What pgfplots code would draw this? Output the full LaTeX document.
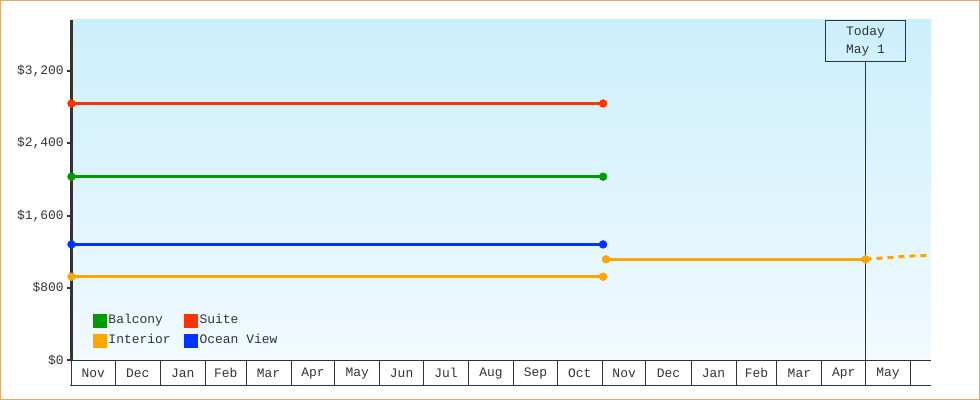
\documentclass[border=0pt]{standalone}
\usepackage{fontspec}
\setmainfont{Liberation Mono}
\usepackage{pgfplots}
\pgfplotsset{compat=1.18}

\definecolor{bordercol}{RGB}{230,168,100}
\definecolor{axiscol}{RGB}{51,51,51}
\definecolor{bgtop}{RGB}{204,239,252}
\definecolor{bgbot}{RGB}{241,250,255}
\definecolor{suite}{RGB}{255,51,0}
\definecolor{balcony}{RGB}{0,153,0}
\definecolor{oceanview}{RGB}{0,51,255}
\definecolor{interior}{RGB}{255,165,0}

\newcommand{\chartfont}{\fontsize{13}{18}\selectfont}

\begin{document}
\begin{tikzpicture}
  \useasboundingbox (0,0) rectangle (980bp,400bp);
  \fill[white] (0,0) rectangle (980bp,400bp);
  \draw[bordercol, line width=1bp] (0.5bp,0.5bp) rectangle (979.5bp,399.5bp);
  \begin{axis}[
      at={(71.5bp,40bp)}, anchor=south west,
      width=859.5bp, height=340bp, scale only axis,
      xmin=0, xmax=591, ymin=0, ymax=3765,
      clip=false,
      axis background/.style={top color=bgtop, bottom color=bgbot},
      axis x line*=bottom,
      axis y line*=left,
      x axis line style={draw=axiscol, line width=1bp},
      y axis line style={draw=axiscol, line width=2.5bp},
      /pgf/number format/assume math mode=true,
      ticklabel style={font=\chartfont, text=axiscol},
      tick align=outside,
      % month boundaries (days from 1 Nov), names centred between them
      xtick={0,30,61,92,120,151,181,212,242,273,304,334,
             365,395,426,457,485,516,546,577},
      xticklabels={Nov,Dec,Jan,Feb,Mar,Apr,May,Jun,Jul,Aug,Sep,Oct,
                   Nov,Dec,Jan,Feb,Mar,Apr,May},
      x tick label as interval,
      x tick style={draw=axiscol, line width=1bp, /pgfplots/major tick length=25bp},
      xticklabel style={anchor=center, yshift=-9bp},
      ytick={0,800,1600,2400,3200},
      yticklabels={\$0,\$800,{\$1,600},{\$2,400},{\$3,200}},
      y tick style={draw=axiscol, line width=2bp, /pgfplots/major tick length=5bp},
      legend columns=2,
      legend cell align=left,
      legend image code/.code={\fill[#1] (0bp,-5.5bp) rectangle (11bp,5.5bp);},
      legend style={draw=none, fill=none, inner sep=0pt, outer sep=0pt,
                    at={(0.025,0.036)}, anchor=south west,
                    font=\chartfont, text=axiscol, row sep=5.5bp,
                    nodes={inner sep=1.5bp, text height=9bp, text depth=2.5bp},
                    /tikz/every even column/.append style={column sep=12bp}},
    ]
    \addlegendimage{balcony}
    \addlegendentry{Balcony}
    \addlegendimage{suite}
    \addlegendentry{Suite}
    \addlegendimage{interior}
    \addlegendentry{Interior}
    \addlegendimage{oceanview}
    \addlegendentry{Ocean View}

    \pgfplotsset{every axis plot/.append style={line width=3bp, mark=*,
        mark size=3.9bp, mark options={line width=0.5bp}, forget plot}}

    \addplot[suite] coordinates {(0,2840) (365.5,2840)};
    \addplot[balcony] coordinates {(0,2030) (365.5,2030)};
    \addplot[oceanview] coordinates {(0,1280) (365.5,1280)};
    \addplot[interior] coordinates {(0,922) (365.5,922)};
    \addplot[interior] coordinates {(367.5,1115) (546,1115)};
    \addplot[interior, mark=none, dash pattern=on 6bp off 5bp]
      coordinates {(546,1115) (575,1150) (591,1158)};

    \draw[axiscol, line width=1bp]
      ([xshift=-1.5bp,yshift=-25bp]rel axis cs:0,0) -- ([yshift=-25bp]rel axis cs:1,0);
    \node[draw=axiscol, line width=1bp, minimum width=80bp, minimum height=41bp,
          anchor=north, align=center, inner sep=0pt, font=\chartfont,
          text=axiscol] (today) at (axis cs:546,3765) {Today\\May 1};
    \draw[axiscol, line width=1bp] (today.south) -- (axis cs:546,0);
  \end{axis}
\end{tikzpicture}
\end{document}
